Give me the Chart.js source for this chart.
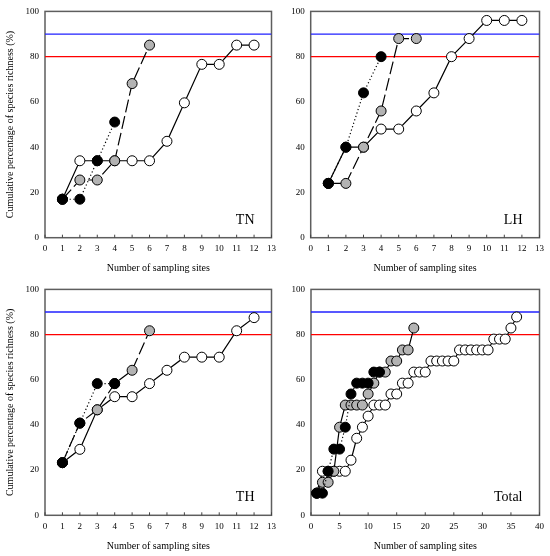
<!DOCTYPE html>
<html>
<head>
<meta charset="utf-8">
<script src="https://cdn.jsdelivr.net/npm/chart.js@4.4.1/dist/chart.umd.min.js"></script>
<style>
  body { margin: 0; background: #fff; }
  #wrap { position: relative; width: 550px; height: 556px; }
  .panel { position: absolute; }
</style>
</head>
<body>
<div id="wrap">
  <div class="panel" style="left:0;top:0;width:282px;height:278px"><canvas id="tn"></canvas></div>
  <div class="panel" style="left:282px;top:0;width:268px;height:278px"><canvas id="lh"></canvas></div>
  <div class="panel" style="left:0;top:278px;width:282px;height:278px"><canvas id="th"></canvas></div>
  <div class="panel" style="left:282px;top:278px;width:268px;height:278px"><canvas id="tot"></canvas></div>
</div>
<script>
// cumulative species richness (%) per number of sampling sites
const tnWhite = [17.0, 34.0, 34.0, 34.0, 34.0, 34.0, 42.6, 59.6, 76.6, 76.6, 85.1, 85.1];
const tnGrey = [17.0, 25.5, 25.5, 34.0, 68.1, 85.1];
const tnBlack = [17.0, 17.0, 34.0, 51.1];

const lhWhite = [24, 40, 40, 48, 48, 56, 64, 80, 88, 96, 96, 96];
const lhGrey = [24, 24, 40, 56, 88, 88];
const lhBlack = [24, 40, 64, 80];

const thWhite = [23.3, 29.2, 46.7, 52.5, 52.5, 58.3, 64.2, 70.0, 70.0, 70.0, 81.7, 87.5];
const thGrey = [23.3, 40.8, 46.7, 58.3, 64.2, 81.7];
const thBlack = [23.3, 40.8, 58.3, 58.3];

const totWhite = [9.8, 19.5, 19.5, 19.5, 19.5, 19.5, 24.4, 34.1, 39.0, 43.9, 48.8, 48.8, 48.8, 53.7, 53.7,
  58.5, 58.5, 63.4, 63.4, 63.4, 68.3, 68.3, 68.3, 68.3, 68.3, 73.2, 73.2, 73.2, 73.2, 73.2, 73.2,
  78.0, 78.0, 78.0, 82.9, 87.8];
const totGrey = [9.8, 14.6, 14.6, 19.5, 39.0, 48.8, 48.8, 48.8, 48.8, 53.7, 58.5, 63.4, 63.4, 68.3, 68.3, 73.2, 73.2, 82.9];
const totBlack = [9.8, 9.8, 19.5, 29.3, 29.3, 39.0, 53.7, 58.5, 58.5, 58.5, 63.4, 63.4];

const redLine = 80;
const blueLine = 90;
const yTicks = [0, 20, 40, 60, 80, 100];

const serif = "'Liberation Serif', 'Times New Roman', serif";

function pts(arr) {
  return arr.map((v, i) => ({ x: i + 1, y: v }));
}

const frame = {
  id: 'frame',
  beforeDatasetsDraw(chart) {
    const { ctx, chartArea: a } = chart;
    const x = chart.scales.x;
    ctx.save();
    ctx.strokeStyle = '#5e5e5e';
    ctx.lineWidth = 1.5;
    ctx.strokeRect(a.left, a.top, a.right - a.left, a.bottom - a.top);
    ctx.strokeStyle = '#444';
    ctx.lineWidth = 1;
    x.ticks.forEach(t => {
      const px = x.getPixelForValue(t.value);
      ctx.beginPath();
      ctx.moveTo(px, a.bottom);
      ctx.lineTo(px, a.bottom - 3);
      ctx.stroke();
    });
    ctx.restore();
  },
  afterDraw(chart, args, opts) {
    const { ctx, chartArea: a } = chart;
    ctx.save();
    ctx.font = '14px ' + serif;
    ctx.fillStyle = '#000';
    ctx.textAlign = 'right';
    ctx.textBaseline = 'alphabetic';
    ctx.fillText(opts.label, a.right - 17, a.bottom - 14);
    ctx.restore();
  }
};

function makePanel(id, label, white, grey, black, xMax, xStep, opt) {
  const dot = { borderColor: '#000', borderWidth: 1.2, pointRadius: 5, pointBorderWidth: 1,
    pointBorderColor: '#000', showLine: true, tension: 0 };
  new Chart(document.getElementById(id), {
    type: 'scatter',
    data: {
      datasets: [
        Object.assign({}, dot, { data: pts(black), backgroundColor: '#000', pointBackgroundColor: '#000',
          borderDash: [1.2, 2.4] }),
        Object.assign({}, dot, { data: pts(grey), backgroundColor: '#b3b3b3', pointBackgroundColor: '#b3b3b3',
          borderDash: opt.greyDash }),
        Object.assign({}, dot, { data: pts(white), backgroundColor: '#fff', pointBackgroundColor: '#fff' }),
        { data: [{ x: 0, y: redLine }, { x: xMax, y: redLine }], showLine: true, borderColor: '#ff0000',
          borderWidth: 1.3, pointRadius: 0 },
        { data: [{ x: 0, y: blueLine }, { x: xMax, y: blueLine }], showLine: true, borderColor: '#2020ff',
          borderWidth: 1.3, pointRadius: 0 }
      ]
    },
    options: {
      responsive: true,
      maintainAspectRatio: false,
      animation: false,
      layout: { padding: { top: opt.top, right: opt.right, left: 0, bottom: 0 } },
      plugins: { legend: { display: false }, tooltip: { enabled: false }, frame: { label: label } },
      scales: {
        x: {
          type: 'linear', min: 0, max: xMax,
          afterFit(s) { s.height = opt.xh; },
          grid: { display: false, drawTicks: false },
          border: { display: false },
          ticks: { stepSize: xStep, padding: 6, color: '#000', font: { family: serif, size: 9 } },
          title: { display: true, text: 'Number of sampling sites', color: '#000',
            font: { family: serif, size: 10 }, padding: { top: 4, bottom: 4 } }
        },
        y: {
          min: 0, max: 100,
          afterFit(s) { s.width = opt.yw; },
          afterBuildTicks(s) { s.ticks = yTicks.map(v => ({ value: v })); },
          grid: { display: false, drawTicks: false },
          border: { display: false },
          ticks: { padding: 6, color: '#000', font: { family: serif, size: 9 } },
          title: { display: opt.ytitle, text: 'Cumulative percentage of species richness (%)', color: '#000',
            font: { family: serif, size: 10 }, padding: { top: 4, bottom: 4 } }
        }
      }
    },
    plugins: [frame]
  });
}

makePanel('tn', 'TN', tnWhite, tnGrey, tnBlack, 13, 1,
  { top: 8, right: 7, xh: 40.3, yw: 45, ytitle: true, greyDash: [13, 4] });
makePanel('lh', 'LH', lhWhite, lhGrey, lhBlack, 13, 1,
  { top: 8, right: 9, xh: 40.3, yw: 28.7, ytitle: false, greyDash: [13, 4] });
makePanel('th', 'TH', thWhite, thGrey, thBlack, 13, 1,
  { top: 8.7, right: 7, xh: 40.7, yw: 45, ytitle: true, greyDash: [13, 4] });
makePanel('tot', 'Total', totWhite, totGrey, totBlack, 40, 5,
  { top: 8.7, right: 9, xh: 40.7, yw: 29, ytitle: false, greyDash: [] });
</script>
</body>
</html>
